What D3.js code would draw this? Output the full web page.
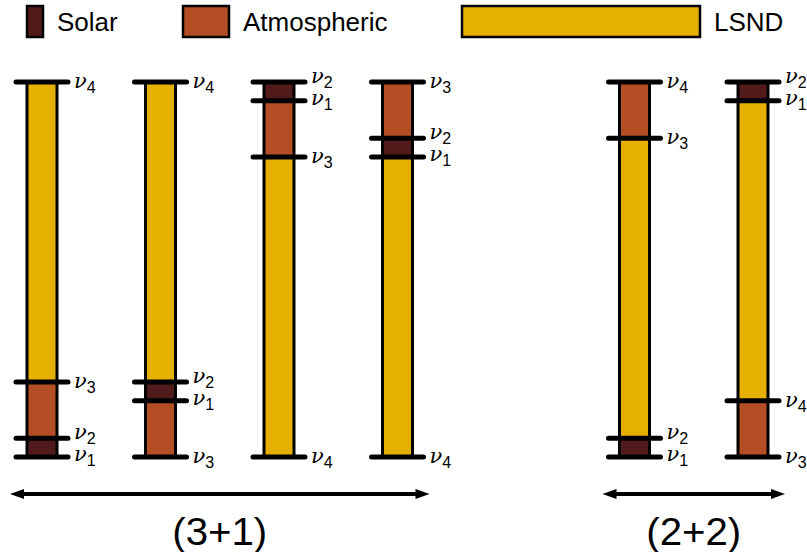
<!DOCTYPE html>
<html>
<head>
<meta charset="utf-8">
<script src="https://cdn.jsdelivr.net/npm/d3@7"></script>
<style>
  body { margin: 0; background: #fff; }
  svg { display: block; }
</style>
</head>
<body>
<svg id="chart" width="807" height="552"></svg>
<script>
// mass levels of each hierarchy (relative, bottom = 0, top = 1)
var slots = [0, 1, 2, 3, 5, 6];
var stateNames = [[1, 2, 3, 4], [3, 1, 2, 4], [4, 3, 1, 2], [4, 1, 2, 3], [1, 2, 3, 4], [3, 4, 1, 2]];
var stateLevels = [[0, 0.05, 0.2, 1], [0, 0.15, 0.2, 1], [0, 0.8, 0.95, 1], [0, 0.8, 0.85, 1], [0, 0.05, 0.85, 1], [0, 0.15, 0.95, 1]];
var gapTypes = [
  ["Solar", "Atmospheric", "LSND"],
  ["Atmospheric", "Solar", "LSND"],
  ["LSND", "Atmospheric", "Solar"],
  ["LSND", "Solar", "Atmospheric"],
  ["Solar", "LSND", "Atmospheric"],
  ["Atmospheric", "LSND", "Solar"]
];
var legendNames = ["Solar", "Atmospheric", "LSND"];
var legendColors = ["#511b1b", "#b44e25", "#e6b000"];
var groupLabels = ["(3+1)", "(2+2)"];
var groupColumns = [[0, 3], [4, 5]];

var svg = d3.select("#chart");

var x = d3.scaleLinear().domain([0, 6]).range([42, 753]);
var y = d3.scaleLinear().domain([0, 1]).range([457, 82]);
var color = d3.scaleOrdinal().domain(legendNames).range(legendColors);

var colW = 30, tickHalf = 26;

// legend
var legendX = [27, 183, 462];
var legendW = [16, 46, 238];
var legend = svg.append("g").attr("class", "legend");
legendNames.forEach(function(name, i) {
  legend.append("rect")
    .attr("x", legendX[i]).attr("y", 6)
    .attr("width", legendW[i]).attr("height", 31)
    .attr("fill", color(name))
    .attr("stroke", "#000").attr("stroke-width", 2.5);
  legend.append("text")
    .attr("x", legendX[i] + legendW[i] + 14).attr("y", 31)
    .attr("font-family", "Liberation Sans, Arial, sans-serif")
    .attr("font-size", 26)
    .text(name);
});

// columns
slots.forEach(function(s, c) {
  var g = svg.append("g").attr("class", "column");
  var cx = x(s);
  var lv = stateLevels[c];

  for (var k = 0; k < lv.length - 1; k++) {
    g.append("rect")
      .attr("x", cx - colW / 2).attr("y", y(lv[k + 1]))
      .attr("width", colW).attr("height", y(lv[k]) - y(lv[k + 1]))
      .attr("fill", color(gapTypes[c][k]));
  }
  g.append("rect")
    .attr("x", cx - colW / 2).attr("y", y(1))
    .attr("width", colW).attr("height", y(0) - y(1))
    .attr("fill", "none")
    .attr("stroke", "#000").attr("stroke-width", 3);

  lv.forEach(function(v, k) {
    g.append("line")
      .attr("x1", cx - tickHalf).attr("x2", cx + tickHalf)
      .attr("y1", y(v)).attr("y2", y(v))
      .attr("stroke", "#000").attr("stroke-width", 5)
      .attr("stroke-linecap", "round");

    // nudge close-lying labels apart
    var dy = 6;
    if (k < lv.length - 1 && lv[k + 1] - v < 0.1) dy = 4;
    if (k > 0 && v - lv[k - 1] < 0.1) dy = 1;

    var t = g.append("text")
      .attr("x", cx + tickHalf + 6).attr("y", y(v) + dy);
    t.append("tspan")
      .attr("font-family", "DejaVu Serif, serif")
      .attr("font-style", "italic")
      .attr("font-size", 21)
      .text("\u03bd");
    t.append("tspan")
      .attr("font-family", "Liberation Sans, Arial, sans-serif")
      .attr("font-size", 16)
      .attr("dy", 5)
      .text(stateNames[c][k]);
  });
});

// group arrows
groupColumns.forEach(function(gc, i) {
  var x1 = x(slots[gc[0]]) - 32, x2 = x(slots[gc[1]]) + 32, ay = 494;
  var g = svg.append("g").attr("class", "group");
  g.append("line")
    .attr("x1", x1 + 8).attr("x2", x2 - 8)
    .attr("y1", ay).attr("y2", ay)
    .attr("stroke", "#000").attr("stroke-width", 4);
  g.append("path")
    .attr("d", "M" + x1 + "," + ay + " L" + (x1 + 14) + "," + (ay - 5) + " L" + (x1 + 14) + "," + (ay + 5) + " Z")
    .attr("fill", "#000");
  g.append("path")
    .attr("d", "M" + x2 + "," + ay + " L" + (x2 - 14) + "," + (ay - 5) + " L" + (x2 - 14) + "," + (ay + 5) + " Z")
    .attr("fill", "#000");
  g.append("text")
    .attr("x", (x1 + x2) / 2).attr("y", 545)
    .attr("text-anchor", "middle")
    .attr("font-family", "Liberation Sans, Arial, sans-serif")
    .attr("font-size", 38)
    .attr("textLength", 95)
    .attr("lengthAdjust", "spacingAndGlyphs")
    .text(groupLabels[i]);
});
</script>
</body>
</html>
